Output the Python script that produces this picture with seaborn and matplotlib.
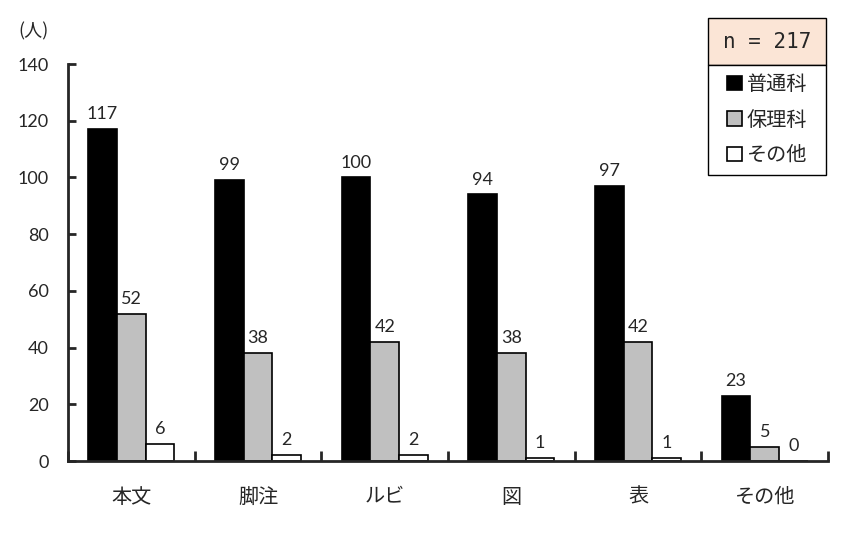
import numpy as np
import pandas as pd
import matplotlib
matplotlib.use("Agg")
import matplotlib.pyplot as plt
import seaborn as sns
from matplotlib.patches import Patch, Rectangle

categories = ["本文", "脚注", "ルビ", "図", "表", "その他"]
groups = ["普通科", "保理科", "その他"]
futsuka = [117, 99, 100, 94, 97, 23]
horika = [52, 38, 42, 38, 42, 5]
sonota = [6, 2, 2, 1, 1, 0]
colors = ["#000000", "#C0C0C0", "#FFFFFF"]

sns.set_style("white")
plt.rcParams["font.family"] = ["Noto Sans CJK JP", "DejaVu Sans"]
num_font = ["Lato", "Noto Sans CJK JP"]

df = pd.DataFrame({
    "category": categories * 3,
    "group": [groups[0]] * 6 + [groups[1]] * 6 + [groups[2]] * 6,
    "count": futsuka + horika + sonota,
})

fig = plt.figure(figsize=(8.52, 5.51), dpi=100)
ax = fig.add_axes([0.0798, 0.1633, 0.8922, 0.7205])

sns.barplot(data=df, x="category", y="count", hue="group", order=categories,
            hue_order=groups, palette=colors, edgecolor="black", linewidth=1.2,
            width=0.68, gap=0, saturation=1, ax=ax, legend=False)

for cont in ax.containers:
    for t in ax.bar_label(cont, padding=5, fontsize=13):
        t.set_family(num_font)

ax.set_ylim(0, 140)
ax.set_yticks(np.arange(0, 141, 20))
ax.set_xlim(-0.5, len(categories) - 0.5)
ax.set_xlabel("")
ax.set_ylabel("")
ax.tick_params(axis="y", left=True, direction="in", length=6, width=2,
               labelsize=13, pad=14)
for t in ax.get_yticklabels():
    t.set_family(num_font)
ax.tick_params(axis="x", which="major", bottom=False, labelsize=14.5, pad=15)
ax.set_xticks(np.arange(-0.5, len(categories)), minor=True)
ax.tick_params(axis="x", which="minor", bottom=True, direction="in", length=7, width=2)
for side in ["top", "right"]:
    ax.spines[side].set_visible(False)
for side in ["left", "bottom"]:
    ax.spines[side].set_linewidth(2)

fig.text(0.021, 0.943, "(人)", fontsize=13, va="center")

# n box + legend box
x0, w = 708 / 852, 118 / 852
n_bot, n_top = 1 - 65 / 551, 1 - 18 / 551
l_bot = 1 - 175 / 551
fig.patches.append(Rectangle((x0, n_bot), w, n_top - n_bot, transform=fig.transFigure,
                             facecolor="#FBE5D6", edgecolor="black", linewidth=1.0))
fig.patches.append(Rectangle((x0, l_bot), w, n_bot - l_bot, transform=fig.transFigure,
                             facecolor="white", edgecolor="black", linewidth=1.0))
fig.text(x0 + w / 2, (n_bot + n_top) / 2, "n = 217", fontsize=15, ha="center",
         va="center", family="DejaVu Sans Mono")

handles = [Patch(facecolor=c, edgecolor="black", linewidth=1.2) for c in colors]
leg = fig.legend(handles, groups, loc="center", bbox_to_anchor=(x0 + w / 2, (l_bot + n_bot) / 2),
                 frameon=False, fontsize=14.5, handlelength=0.75, handleheight=0.75,
                 handletextpad=0.25, labelspacing=0.72, borderpad=0.2)

fig.savefig("out.png", dpi=100)
